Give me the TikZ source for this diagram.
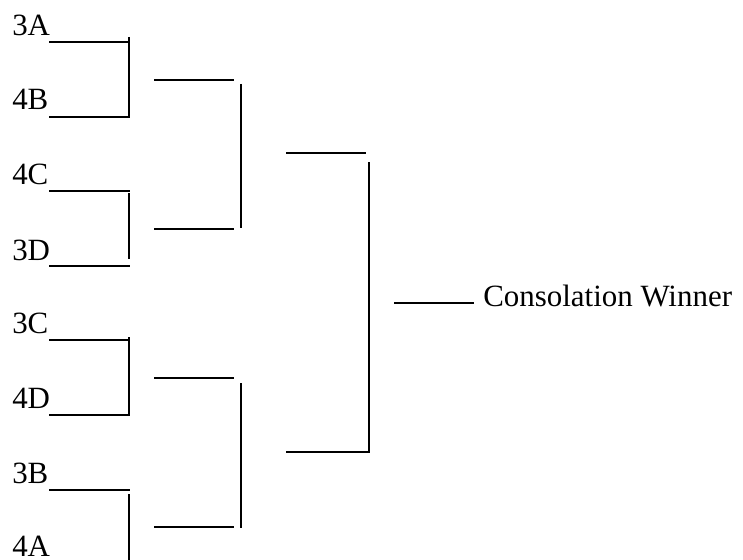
\documentclass[tikz,border=0pt]{standalone}
\usepackage{fontspec}
\setmainfont{Liberation Serif}
\begin{document}
\begin{tikzpicture}[x=0.75pt,y=-0.75pt,
  bline/.style={line width=1.3pt,line cap=butt},
  team/.style={anchor=base west,inner sep=0pt,font=\fontsize{23.2}{27}\selectfont}]
\useasboundingbox (0,0) rectangle (743,560);
% team labels
\node[team] (t1) at (12,36) {3A};
\node[team] (t2) at (12,110) {4B};
\node[team] (t3) at (12,185) {4C};
\node[team] (t4) at (12,260) {3D};
\node[team] (t5) at (12,333) {3C};
\node[team] (t6) at (12,408) {4D};
\node[team] (t7) at (12,483) {3B};
\node[team] (t8) at (12,556) {4A};
\node[team] (win) at (483,306) {Consolation Winner};
% round 1 lines
\foreach \n/\y in {a/42,b/117,c/191,d/266,e/340,f/415,g/490}{
  \coordinate (l\n) at (49,\y);
  \coordinate (r\n) at (129.5,\y);
  \draw[bline] (l\n) -- (r\n);
}
% round 1 verticals
\coordinate (v1a) at (129,37);  \coordinate (v1b) at (129,117.6);
\coordinate (v2a) at (129,193); \coordinate (v2b) at (129,259);
\coordinate (v3a) at (129,337); \coordinate (v3b) at (129,415.6);
\coordinate (v4a) at (129,494); \coordinate (v4b) at (129,560);
\draw[bline] (v1a) -- (v1b);
\draw[bline] (v2a) -- (v2b);
\draw[bline] (v3a) -- (v3b);
\draw[bline] (v4a) -- (v4b);
% round 2 lines
\foreach \n/\y in {a/80,b/229,c/378,d/527}{
  \coordinate (sl\n) at (154,\y);
  \coordinate (sr\n) at (234,\y);
  \draw[bline] (sl\n) -- (sr\n);
}
\coordinate (w1a) at (241,84);  \coordinate (w1b) at (241,228);
\coordinate (w2a) at (241,383); \coordinate (w2b) at (241,528);
\draw[bline] (w1a) -- (w1b);
\draw[bline] (w2a) -- (w2b);
% round 3 lines
\coordinate (fa1) at (286,153); \coordinate (fa2) at (366,153);
\coordinate (fb1) at (286,452); \coordinate (fb2) at (368,452);
\draw[bline] (fa1) -- (fa2);
\draw[bline] (fb1) -- (fb2);
\coordinate (x1) at (369,162); \coordinate (x2) at (369,452.6);
\draw[bline] (x1) -- (x2);
% winner line
\coordinate (z1) at (394,303); \coordinate (z2) at (474,303);
\draw[bline] (z1) -- (z2);
\end{tikzpicture}
\end{document}
